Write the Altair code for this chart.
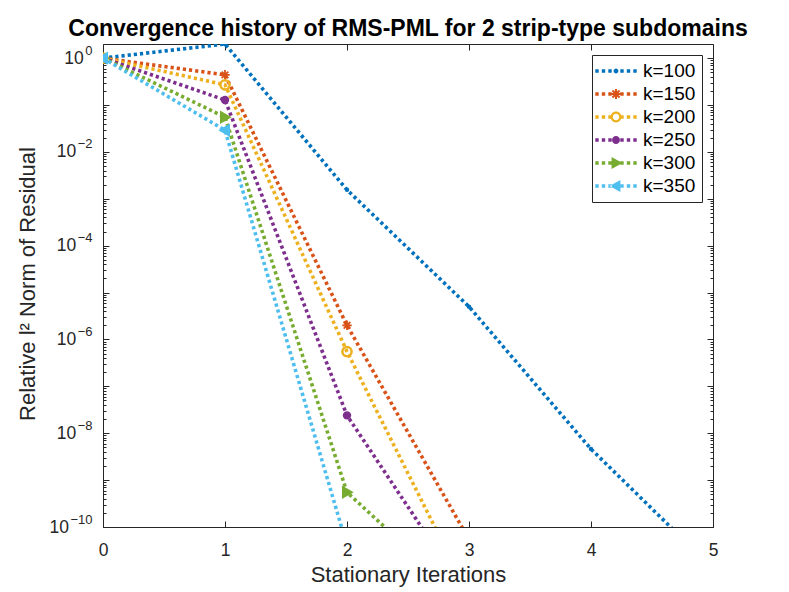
import math
import altair as alt
import pandas as pd

# ---------------- data ----------------
iterations = [0, 1, 2, 3, 4, 5]
series_labels = ["k=100", "k=150", "k=200", "k=250", "k=300", "k=350"]
res_k100 = [1.0, 2.0, 1.55e-3, 5.0e-6, 4.6e-9, 1.3e-11]
res_k150 = [1.0, 0.44, 2.0e-6, 5.4e-11]
res_k200 = [1.0, 0.27, 5.5e-7, 3.5e-12]
res_k250 = [1.0, 0.128, 2.4e-8, 3.0e-12]
res_k300 = [1.0, 0.055, 5.5e-10, 2.2e-12]
res_k350 = [1.0, 0.029, 4.0e-11]
series_values = [res_k100, res_k150, res_k200, res_k250, res_k300, res_k350]
colors = ["#0072BD", "#D95319", "#EDB120", "#7E2F8E", "#77AC30", "#4DBEEE"]
x_ticks = [0, 1, 2, 3, 4, 5]
y_major_exps = [0, -2, -4, -6, -8, -10]

rows = []
for lab, vals in zip(series_labels, series_values):
    for it, v in zip(iterations, vals):
        rows.append({"it": it, "res": v, "k": lab})
df = pd.DataFrame(rows)

FONT = "Liberation Sans, Arial, Helvetica, sans-serif"
AX = "#262626"
W, H = 610, 483
TICK_FS = 17.5
EXP_FS = 13

# ---------------- ticks ----------------
y_decades = [float(f"1e{e}") for e in range(-10, 1)]
y_minors = [float(f"{m}e{e}") for e in range(-10, 0) for m in range(2, 10)]
y_majors = [float(f"1e{e}") for e in y_major_exps]

def exp_text(e):
    return str(e).replace("-", "\u2212")

exp_expr = ""
for e in y_major_exps:
    exp_expr += f"datum.value == {float(f'1e{e}')!r} ? '{exp_text(e)}' : "
exp_expr += "''"

x_scale = alt.Scale(domain=[0, 5], nice=False, zero=False)
y_scale = alt.Scale(type="log", domain=[1e-10, 2.0], nice=False)

def tick_axis(orient, values, size, offset):
    return alt.Axis(orient=orient, values=values, labels=False, title=None, grid=False,
                    domain=False, ticks=True, tickSize=size, tickColor=AX, tickWidth=1,
                    offset=offset)

EXP_PAD = 11
def base_axis(values, pad, **kw):
    return alt.Axis(orient="left", values=values, labelExpr="'10'", grid=False, ticks=False,
                    domain=False, labelPadding=pad, labelOverlap=False, labelFont=FONT,
                    labelFontSize=TICK_FS, labelColor=AX, **kw)

# advance widths (Liberation Sans): digit 0.556 em, minus 0.584 em
def exp_width(e):
    s = exp_text(e)
    return sum(0.584 if ch == "\u2212" else 0.556 for ch in s) * EXP_FS

pad_e0 = EXP_PAD + exp_width(0) + 1.5
pad_e2 = EXP_PAD + exp_width(-2) + 1.5
pad_e10 = EXP_PAD + exp_width(-10) + 1.5

exp_axis = alt.Axis(orient="left", values=y_majors, labelExpr=exp_expr, grid=False, ticks=False,
                    domain=False, labelPadding=EXP_PAD, labelOverlap=False, labelFont=FONT,
                    labelFontSize=EXP_FS, labelColor=AX, labelOffset=-8, title=None)

x_main_axis = alt.Axis(orient="bottom", values=x_ticks, format="d", title="Stationary Iterations",
                       grid=False, ticks=False, labelPadding=14.5, titleY=37,
                       labelFont=FONT, labelFontSize=TICK_FS, labelColor=AX,
                       titleFont=FONT, titleFontSize=22, titleFontWeight="normal", titleColor=AX,
                       domainColor=AX, labelFlush=False)
y_main_axis = base_axis([1e-2, 1e-4, 1e-6, 1e-8], pad_e2,
                        title="Relative l² Norm of Residual", titleFont=FONT, titleFontSize=22,
                        titleFontWeight="normal", titleColor=AX, titleX=-64, titleY=H / 2 - 2)

line_axes = [
    (x_main_axis, y_main_axis),
    (tick_axis("top", x_ticks, 6, -H), tick_axis("right", y_decades, 6, -W)),
    (tick_axis("bottom", x_ticks, 6, -H), tick_axis("left", y_decades, 6, -W)),
    (None, tick_axis("right", y_minors, 3, -W)),
    (None, tick_axis("left", y_minors, 3, -W)),
    (None, base_axis([1e0], pad_e0, title=None)),
]
point_axes = [
    (None, base_axis([1e-10], pad_e10, title=None)),
    (None, exp_axis),
    (None, None), (None, None), (None, None), (None, None),
]

# ---------------- legend symbols (dotted segment + marker) ----------------
# symbolSize 400 -> 10 px per path unit
def rect(cx, cy, hw, hh):
    return f"M{cx-hw:.4f},{cy-hh:.4f}L{cx+hw:.4f},{cy-hh:.4f}L{cx+hw:.4f},{cy+hh:.4f}L{cx-hw:.4f},{cy+hh:.4f}Z"

def circ(r, sweep=1):
    return f"M{r},0A{r},{r} 0 1,{sweep} {-r},0A{r},{r} 0 1,{sweep} {r},0Z"

def bar(angle, L, t):
    ca, sa = math.cos(angle), math.sin(angle)
    pts = [(-L, -t), (L, -t), (L, t), (-L, t)]
    pts = [(x * ca - y * sa, x * sa + y * ca) for x, y in pts]
    return "M" + "L".join(f"{x:.4f},{y:.4f}" for x, y in pts) + "Z"

dots = "".join(rect(cx, 0, 0.17, 0.17) for cx in [-1.9, -1.25, -0.6, 0.6, 1.25, 1.9])
leg_markers = [
    circ(0.24),
    "".join(bar(a, 0.5, 0.1) for a in [0, math.pi / 2, math.pi / 4, -math.pi / 4]),
    circ(0.54) + circ(0.32, 0),
    circ(0.4),
    "M-0.44,-0.6L0.64,0L-0.44,0.6Z",
    "M0.44,-0.6L-0.64,0L0.44,0.6Z",
]
leg_shapes = [dots + m for m in leg_markers]

# ---------------- plot markers ----------------
asterisk = "M-1,0L1,0M0,-1L0,1M-0.7,-0.7L0.7,0.7M-0.7,0.7L0.7,-0.7"
tri_r = "M-0.75,-1L1,0L-0.75,1Z"
tri_l = "M0.75,-1L-1,0L0.75,1Z"
marker_marks = [
    dict(shape="circle", filled=True, size=20),
    dict(shape=asterisk, filled=False, size=90, strokeWidth=1.8),
    dict(shape="circle", filled=False, size=85, strokeWidth=2.5),
    dict(shape="circle", filled=True, size=70),
    dict(shape=tri_r, filled=True, size=180),
    dict(shape=tri_l, filled=True, size=180),
]

base = alt.Chart(df)

layers = []
for i, (lab, col, mk) in enumerate(zip(series_labels, colors, marker_marks)):
    lxa, lya = line_axes[i]
    pxa, pya = point_axes[i]
    sub = base.transform_filter(alt.datum.k == lab)
    layers.append(
        sub.mark_line(color=col, strokeWidth=3.6, strokeDash=[3.2, 3.0], strokeCap="butt",
                      clip=True).encode(
            x=alt.X("it:Q", scale=x_scale, axis=lxa),
            y=alt.Y("res:Q", scale=y_scale, axis=lya),
        )
    )
    layers.append(
        sub.mark_point(color=col, opacity=1, clip=True, **mk).encode(
            x=alt.X("it:Q", scale=x_scale, axis=pxa),
            y=alt.Y("res:Q", scale=y_scale, axis=pya),
        )
    )

leg = dict(title=None, orient="none", legendX=489, legendY=11,
           direction="vertical", symbolSize=400, symbolStrokeWidth=0,
           symbolOpacity=1, symbolOffset=8, labelFont=FONT, labelFontSize=19,
           labelColor="black", labelOffset=17, rowPadding=3, padding=6,
           strokeColor=AX, fillColor="white")

legend_layer = base.transform_filter("false").mark_point(filled=True, opacity=1).encode(
    x=alt.X("it:Q", scale=x_scale, axis=None),
    y=alt.Y("res:Q", scale=y_scale, axis=None),
    color=alt.Color("k:N", scale=alt.Scale(domain=series_labels, range=colors),
                    legend=alt.Legend(**leg)),
    shape=alt.Shape("k:N", scale=alt.Scale(domain=series_labels, range=leg_shapes),
                    legend=alt.Legend(**leg)),
)
layers.append(legend_layer)

chart = alt.layer(*layers).resolve_axis(
    x="independent", y="independent"
).properties(
    width=W, height=H,
    autosize=alt.AutoSizeParams(type="none"),
    padding={"left": 95, "top": 36, "right": 50, "bottom": 62},
    title=alt.TitleParams("Convergence history of RMS-PML for 2 strip-type subdomains",
                          font=FONT, fontSize=23, fontWeight="bold", color="black",
                          anchor="middle", offset=3),
).configure_view(stroke=AX, strokeWidth=1)

chart.save("out.html", embed_options={"renderer": "svg", "actions": False})
